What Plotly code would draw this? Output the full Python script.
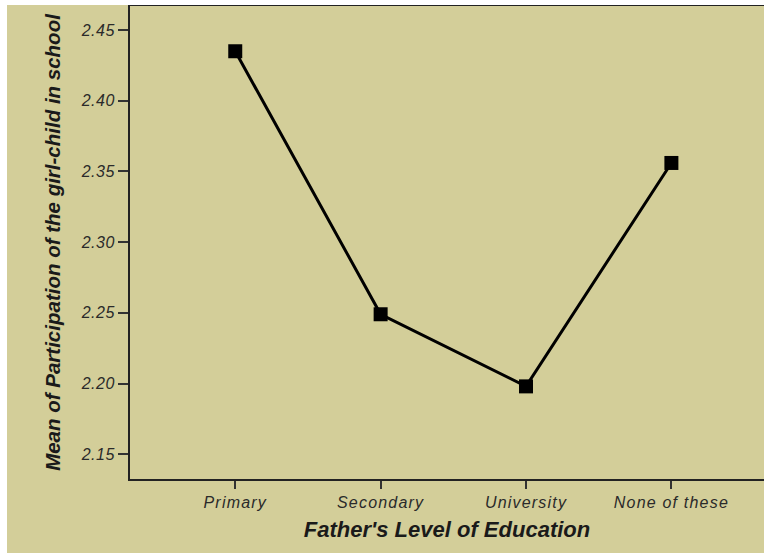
import plotly.graph_objects as go

categories = ["Primary", "Secondary", "University", "None of these"]
means = [2.435, 2.249, 2.198, 2.356]
y_ticks = [2.15, 2.20, 2.25, 2.30, 2.35, 2.40, 2.45]
y_tick_labels = ["2.15", "2.20", "2.25", "2.30", "2.35", "2.40", "2.45"]

W, H = 757, 548
ml, mr, mt, mb = 123, 0, 1, 74
beige = "rgb(211,206,153)"

fig = go.Figure()
fig.add_trace(go.Scatter(
    x=list(range(len(categories))), y=means, mode="lines+markers",
    line=dict(color="black", width=3),
    marker=dict(symbol="square", size=14, color="black"),
    cliponaxis=False, showlegend=False,
))

fig.update_layout(
    width=W, height=H,
    margin=dict(l=ml, r=mr, t=mt, b=mb, pad=0),
    paper_bgcolor=beige, plot_bgcolor=beige,
    font=dict(family="Liberation Sans, Arial, sans-serif"),
    xaxis=dict(
        range=[-0.724, 3.637], tickmode="array",
        tickvals=list(range(len(categories))), ticktext=categories,
        showline=True, linecolor="#222", linewidth=2, mirror=True,
        ticks="outside", ticklen=8, tickwidth=2, tickcolor="#333",
        tickfont=dict(size=16, color="#2a2a2a", style="italic"),
        showgrid=False, zeroline=False,
        title=dict(text="Father's Level of Education",
                   font=dict(size=22, color="#1a1a1a", weight="bold", style="italic"),
                   standoff=11),
    ),
    yaxis=dict(
        range=[2.1325, 2.467], tickmode="array",
        tickvals=y_ticks, ticktext=y_tick_labels,
        showline=True, linecolor="#222", linewidth=2,
        ticks="outside", ticklen=10, tickwidth=2, tickcolor="#333",
        tickfont=dict(size=16, color="#2a2a2a", style="italic"),
        showgrid=False, zeroline=False,
        title=dict(text="Mean of Participation of the girl-child in school",
                   font=dict(size=20.5, color="#1a1a1a", weight="bold", style="italic"),
                   standoff=16),
    ),
)

post = """
document.body.style.margin = '5px 0 0 7px';
var gd = document.getElementById('{plot_id}');
gd.querySelectorAll('.xtick text').forEach(function(t){ t.style.letterSpacing = '1.2px'; });
gd.querySelectorAll('.ytick text').forEach(function(t){ t.style.letterSpacing = '0.5px'; });
"""

fig.write_html("out.html", post_script=post)
